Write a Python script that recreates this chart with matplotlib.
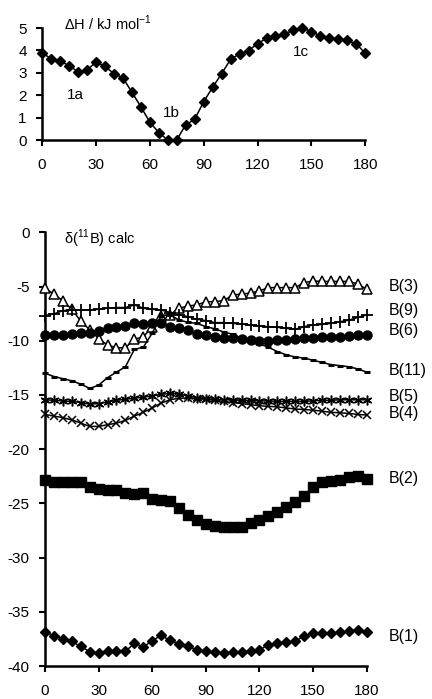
import matplotlib
matplotlib.use("Agg")
import matplotlib.pyplot as plt
import numpy as np

plt.rcParams['font.family'] = ['Liberation Sans', 'DejaVu Sans']
plt.rcParams['axes.unicode_minus'] = False

angles = list(range(0, 181, 5))

dH = [3.9, 3.63, 3.53, 3.32, 3.05, 3.12, 3.47, 3.30, 2.96, 2.78, 2.14, 1.49, 0.80, 0.33,
      0.0, 0.0, 0.68, 0.92, 1.71, 2.35, 2.96, 3.6, 3.85, 3.99, 4.3, 4.54, 4.63, 4.73,
      4.91, 5.0, 4.84, 4.64, 4.54, 4.52, 4.45, 4.29, 3.87]

B3 = [-5.16, -5.69, -6.33, -7.1, -8.18, -9.0, -9.8, -10.4, -10.65, -10.65, -9.85, -9.65,
      -8.7, -7.7, -7.6, -7.0, -6.8, -6.7, -6.4, -6.4, -6.3, -5.78, -5.7, -5.6, -5.4, -5.1,
      -5.1, -5.1, -5.1, -4.64, -4.49, -4.53, -4.53, -4.53, -4.53, -4.76, -5.25]
B9 = [-7.68, -7.53, -7.22, -7.16, -7.16, -7.16, -7.1, -7.0, -6.94, -6.94, -6.7, -7.0,
      -7.1, -7.16, -7.41, -7.62, -7.78, -8.02, -8.14, -8.33, -8.33, -8.4, -8.46, -8.55,
      -8.64, -8.7, -8.76, -8.86, -8.95, -8.7, -8.55, -8.5, -8.4, -8.25, -8.1, -7.85, -7.62]
B6 = [-9.47, -9.47, -9.47, -9.4, -9.31, -9.31, -9.1, -8.85, -8.7, -8.6, -8.33, -8.45,
      -8.4, -8.4, -8.7, -8.85, -9.0, -9.4, -9.5, -9.62, -9.77, -9.77, -9.84, -9.93,
      -10.02, -10.02, -9.96, -9.93, -9.84, -9.77, -9.71, -9.68, -9.62, -9.62, -9.56,
      -9.47, -9.47]
B11 = [-13.0, -13.3, -13.5, -13.7, -14.0, -14.4, -14.1, -13.4, -12.9, -12.4, -10.8,
       -10.6, -9.3, -7.7, -7.6, -8.1, -8.3, -8.4, -8.7, -8.9, -9.2, -9.4, -9.8, -10.1,
       -10.3, -10.6, -11.0, -11.3, -11.5, -11.6, -11.8, -12.0, -12.2, -12.3, -12.4,
       -12.6, -12.9]
B5 = [-15.45, -15.5, -15.55, -15.6, -15.7, -15.85, -15.8, -15.65, -15.5, -15.4, -15.3,
      -15.2, -15.1, -14.95, -14.85, -14.9, -15.1, -15.25, -15.35, -15.4, -15.45, -15.45,
      -15.5, -15.5, -15.55, -15.55, -15.6, -15.6, -15.6, -15.6, -15.55, -15.5, -15.5,
      -15.45, -15.45, -15.45, -15.45]
B4 = [-16.8, -16.95, -17.1, -17.3, -17.6, -17.9, -17.9, -17.75, -17.6, -17.35, -16.95,
      -16.6, -16.2, -15.75, -15.45, -15.3, -15.3, -15.35, -15.4, -15.5, -15.6, -15.7,
      -15.8, -15.9, -16.0, -16.05, -16.1, -16.2, -16.3, -16.35, -16.4, -16.5, -16.6,
      -16.65, -16.7, -16.8, -16.85]
B2 = [-22.83, -23.04, -23.0, -23.0, -23.07, -23.5, -23.69, -23.75, -23.8, -24.0, -24.15,
      -24.0, -24.6, -24.7, -24.75, -25.44, -26.05, -26.5, -26.9, -27.07, -27.15, -27.2,
      -27.14, -26.85, -26.5, -26.2, -25.84, -25.29, -24.83, -24.3, -23.45, -23.07, -22.9,
      -22.83, -22.6, -22.5, -22.77]
B1 = [-36.87, -37.21, -37.49, -37.73, -38.19, -38.68, -38.8, -38.62, -38.62, -38.65,
      -37.92, -38.25, -37.67, -37.18, -37.64, -37.95, -38.19, -38.5, -38.65, -38.71,
      -38.83, -38.68, -38.68, -38.59, -38.5, -38.04, -37.9, -37.83, -37.74, -37.21, -37.0,
      -37.0, -37.0, -36.9, -36.8, -36.66, -36.84]

conf_labels = ["1a", "1b", "1c"]
conf_pos = [(18.5, 2.0), (72, 1.2), (144, 3.93)]

series_names = ["B(3)", "B(9)", "B(6)", "B(11)", "B(5)", "B(4)", "B(2)", "B(1)"]
label_y = [-5.0, -7.2, -9.1, -12.75, -15.1, -16.75, -22.7, -37.3]

xticks = [0, 30, 60, 90, 120, 150, 180]

fig = plt.figure(figsize=(4.32, 6.99), dpi=100)
W, H = 432.0, 699.0

def style(ax):
    for s in ['top', 'right']:
        ax.spines[s].set_visible(False)
    for s in ['left', 'bottom']:
        ax.spines[s].set_linewidth(1.8)
    ax.tick_params(direction='out', length=4, width=1.5, labelsize=11, colors='black')
    ax.tick_params(axis='x', pad=9)
    ax.tick_params(axis='y', pad=7)
    ax.set_xticks(xticks)
    ax.set_xticklabels([str(t) for t in xticks])

# top axes
ax1 = fig.add_axes([42 / W, 1 - 140 / H, (365.3 - 42) / W, (140 - 28) / H])
ax1.set_xlim(0, 180)
ax1.set_ylim(0, 5)
ax1.plot(angles, dH, color='black', lw=1.1, marker='D', ms=5.5, mfc='black', mec='black',
         clip_on=False, zorder=3)
ax1.set_yticks(range(0, 6))
ax1.set_yticklabels([str(v) for v in range(0, 6)])
style(ax1)
ax1.text(12.5, 5.22, "ΔH / kJ mol$^{\\mathregular{-1}}$", fontsize=10.5, ha='left', va='center')
for lab, (x, y) in zip(conf_labels, conf_pos):
    ax1.text(x, y, lab, fontsize=11, ha='center', va='center')

# bottom axes
ax2 = fig.add_axes([45 / W, 1 - 666 / H, (366.7 - 45) / W, (666 - 232.3) / H])
ax2.set_xlim(0, 180)
ax2.set_ylim(-40, 0)
ax2.set_yticks(range(-40, 1, 5))
ax2.set_yticklabels([str(v) for v in range(-40, 1, 5)])
style(ax2)

kw = dict(color='black', lw=1.1, clip_on=False, zorder=3)
ax2.plot(angles, B3, marker='^', ms=6.5, mfc='white', mec='black', mew=1.1, **kw)
ax2.plot(angles, B9, marker='+', ms=8, mew=1.3, **kw)
ax2.plot(angles, B6, marker='o', ms=6.5, mfc='black', mec='black', **kw)
ax2.plot(angles, B11, marker='_', ms=4, mew=2.2, **kw)
ax2.plot(angles, B5, marker=(6, 2, 0), ms=7, mew=1.1, **kw)
ax2.plot(angles, B4, marker='x', ms=6, mew=1.1, **kw)
ax2.plot(angles, B2, marker='s', ms=6.5, mfc='black', mec='black', **kw)
ax2.plot(angles, B1, marker='D', ms=5.5, mfc='black', mec='black', **kw)

ax2.text(10.5, -0.6, "δ($^{\\mathregular{11}}$B) calc", fontsize=10.5, ha='left', va='center')
for name, y in zip(series_names, label_y):
    ax2.text(192.5, y, name, fontsize=11.5, ha='left', va='center', clip_on=False)

fig.savefig("out.png", dpi=100)
